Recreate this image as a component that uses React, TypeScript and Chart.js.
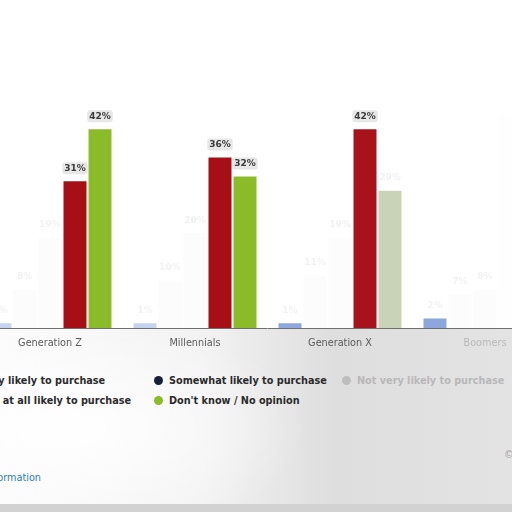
import React, { useEffect, useRef } from 'react';
import { Chart, registerables } from 'chart.js';

Chart.register(...registerables);

const categories = ['Generation Z', 'Millennials', 'Generation X', 'Boomers'];
const seriesNames = [
  'Very likely to purchase',
  'Somewhat likely to purchase',
  'Not very likely to purchase',
  'Not at all likely to purchase',
  "Don't know / No opinion",
];
const veryLikely = [1, 1, 1, 2];
const somewhatLikely = [8, 10, 11, 7];
const notVeryLikely = [19, 20, 19, 8];
const notAtAllLikely = [31, 36, 42, 45];
const dontKnow = [42, 32, 29, 38];

const seriesValues = [veryLikely, somewhatLikely, notVeryLikely, notAtAllLikely, dontKnow];

// legend colours, plus how each bar looks in the (half faded) frame
const legendColors = ['#4a7fd0', '#14213d', '#bdbdbd', '#a50f15', '#8cbb2a'];
const GHOST = 'rgba(240,240,240,0.22)';
const barColors = [
  ['rgba(90,130,205,0.35)', 'rgba(90,130,205,0.35)', 'rgba(90,130,205,0.7)', 'rgba(90,130,205,0.7)'],
  [GHOST, GHOST, GHOST, GHOST],
  [GHOST, GHOST, GHOST, GHOST],
  ['#a50f15', '#a50f15', '#a8121a', 'rgba(240,240,240,0.08)'],
  ['#8cbb2a', '#8cbb2a', '#c9d3b7', GHOST],
];
// 2 = boxed label, 1 = faint label, 0 = none
const labelMode = [
  [1, 1, 1, 1],
  [1, 1, 1, 1],
  [1, 1, 1, 1],
  [2, 2, 2, 0],
  [2, 2, 1, 0],
];

const FONT = '"DejaVu Sans", Verdana, sans-serif';

const barLabels = {
  id: 'barLabels',
  afterDatasetsDraw(chart: any) {
    const ctx = chart.ctx;
    ctx.save();
    chart.data.datasets.forEach((ds: any, i: number) => {
      const meta = chart.getDatasetMeta(i);
      meta.data.forEach((bar: any, j: number) => {
        const mode = labelMode[i][j];
        if (!mode) return;
        const text = ds.data[j] + '%';
        const y = bar.y - 13;
        ctx.font = `bold 9px ${FONT}`;
        ctx.textAlign = 'center';
        ctx.textBaseline = 'middle';
        if (mode === 2) {
          const w = ctx.measureText(text).width + 4;
          ctx.fillStyle = 'rgba(228,228,228,0.9)';
          ctx.beginPath();
          ctx.roundRect(bar.x - w / 2, y - 6, w, 12, 3);
          ctx.fill();
          ctx.fillStyle = '#3c3c3c';
        } else {
          ctx.fillStyle = 'rgba(232,232,232,0.55)';
        }
        ctx.fillText(text, bar.x, y);
      });
    });
    ctx.restore();
  },
};

const App: React.FC = () => {
  const canvasRef = useRef<HTMLCanvasElement | null>(null);

  useEffect(() => {
    if (!canvasRef.current) return;
    const chart = new Chart(canvasRef.current, {
      type: 'bar',
      data: {
        labels: categories,
        datasets: seriesNames.map((name, i) => ({
          label: name,
          data: seriesValues[i],
          backgroundColor: barColors[i],
          borderWidth: 0,
          categoryPercentage: 0.862,
          barPercentage: 0.92,
        })),
      },
      options: {
        animation: false,
        responsive: false,
        layout: { padding: { left: 37.5, right: 22.5, top: 44, bottom: 0 } },
        scales: {
          x: {
            grid: { display: false, drawTicks: false },
            border: { display: true, color: '#6f6f6f', width: 1 },
            ticks: {
              padding: 10,
              font: { family: FONT, size: 9.7 },
              color: (c: any) => (c.index === 3 ? '#b9b9b9' : '#5a5a5a'),
            },
            afterFit: (scale: any) => {
              scale.height = 30;
            },
          },
          y: { display: false, min: 0, max: 60 },
        },
        plugins: { legend: { display: false }, tooltip: { enabled: false } },
      },
      plugins: [barLabels],
    });
    return () => chart.destroy();
  }, []);

  const legendPos = [
    { x: -31, y: 380 },
    { x: 158, y: 380 },
    { x: 346, y: 380 },
    { x: -31, y: 400 },
    { x: 158, y: 400 },
  ];

  return (
    <div
      style={{
        position: 'fixed',
        top: 0,
        left: 0,
        width: 512,
        height: 512,
        overflow: 'hidden',
        background: '#fff',
        fontFamily: FONT,
      }}
    >
      <div
        style={{
          position: 'absolute',
          left: 0,
          top: 329,
          width: 512,
          height: 183,
          background:
            'radial-gradient(ellipse 45% 60% at 15% 55%, rgba(255,255,255,0.95), rgba(255,255,255,0) 100%), linear-gradient(to right, #fbfbfb 0%, #f2f2f2 40%, #dedede 65%, #e3e3e3 100%)',
        }}
      />
      <div style={{ position: 'absolute', left: 0, top: 504, width: 512, height: 8, background: '#d2d2d2' }} />
      <canvas ref={canvasRef} width={640} height={358} style={{ position: 'absolute', left: -60, top: 0 }} />
      {seriesNames.map((name, i) => {
        const faded = i === 2;
        return (
          <div
            key={name}
            style={{
              position: 'absolute',
              left: legendPos[i].x - 4,
              top: legendPos[i].y - 7,
              height: 14,
              display: 'flex',
              alignItems: 'center',
              whiteSpace: 'nowrap',
              fontSize: 9.7,
              fontWeight: 'bold',
              color: faded ? '#b8b8b8' : '#2b2b2b',
            }}
          >
            <span
              style={{
                display: 'inline-block',
                width: 9,
                height: 9,
                borderRadius: '50%',
                background: legendColors[i],
                marginRight: 6,
              }}
            />
            {name}
          </div>
        );
      })}
      <div
        style={{
          position: 'absolute',
          right: 471,
          top: 472,
          whiteSpace: 'nowrap',
          fontSize: 9.7,
          color: '#2a7fc0',
        }}
      >
        Additional Information
      </div>
      <div style={{ position: 'absolute', left: 504, top: 449, fontSize: 9.7, color: '#a5a5a5', whiteSpace: 'nowrap' }}>
        © Statista
      </div>
    </div>
  );
};

export default App;
